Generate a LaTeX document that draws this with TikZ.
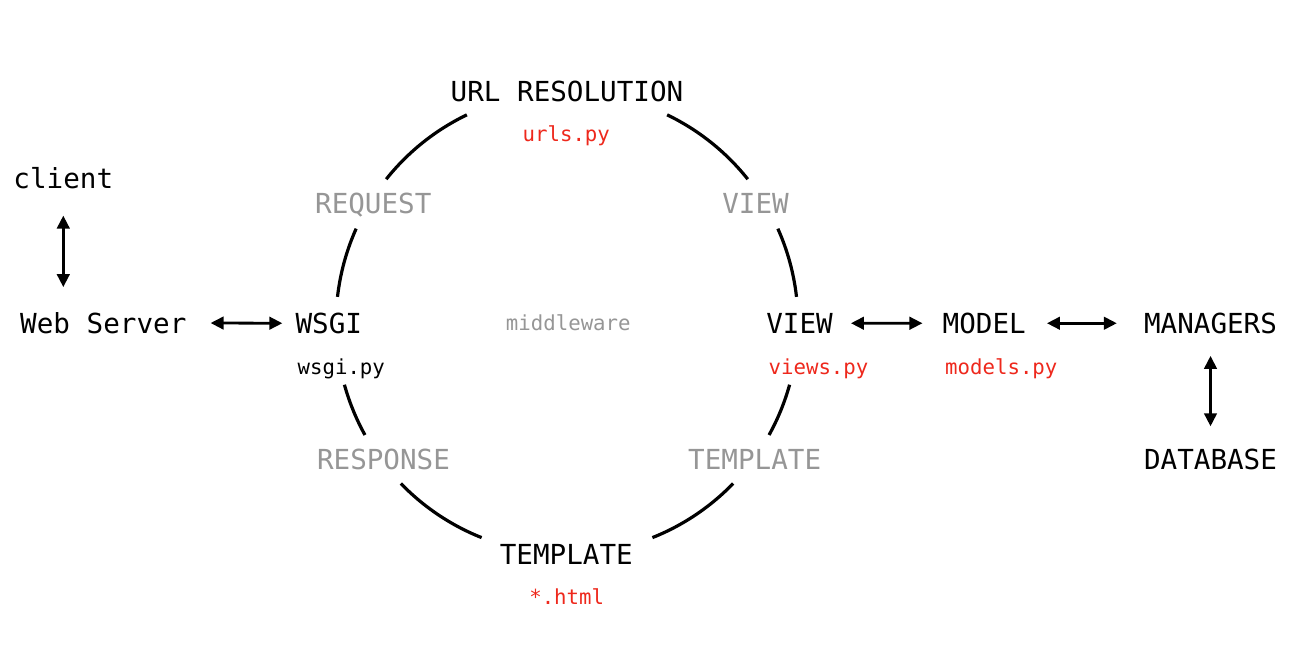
\documentclass[tikz,border=0pt]{standalone}
\usepackage{fontspec}
\setmonofont{DejaVu Sans Mono}
\usetikzlibrary{arrows.meta,calc}
\definecolor{lblgray}{RGB}{150,150,150}
\definecolor{filered}{RGB}{238,40,28}
\begin{document}
\begin{tikzpicture}[x=1bp,y=1bp,
  big/.style={font=\fontsize{27.6bp}{30bp}\selectfont\ttfamily, anchor=base, inner sep=0pt},
  small/.style={font=\fontsize{20.7bp}{24bp}\selectfont\ttfamily, anchor=base, inner sep=0pt},
  stage/.style={big, text=lblgray},
  file/.style={small, text=filered},
  dbl/.style={{Triangle[length=13bp,width=12.5bp]}-{Triangle[length=13bp,width=12.5bp]}, line width=2.8bp},
  ring/.style={line width=3.2bp}]
\fill[white] (0,0) rectangle (1303,646);
\useasboundingbox (0,0) rectangle (1303,646);

\coordinate (c) at (567,323);

% nodes
\node[big]   (url)      at (567,544.3)   {URL RESOLUTION};
\node[file]  (urls)     at (566.3,504.5) {urls.py};
\node[big]   (client)   at (63.3,457)    {client};
\node[stage] (request)  at (373.3,432)   {REQUEST};
\node[stage] (viewg)    at (755.5,432)   {VIEW};
\node[big]   (web)      at (103.3,312.7) {Web Server};
\node[big]   (wsgi)     at (328.8,312.7) {WSGI};
\node[small, text=lblgray] (mid) at (568.3,315.3) {middleware};
\node[big]   (view)     at (799.5,312.7) {VIEW};
\node[big]   (model)    at (984.2,312.7) {MODEL};
\node[big]   (managers) at (1210.5,312.7) {MANAGERS};
\node[small] (wsgipy)   at (341.3,271.5) {wsgi.py};
\node[file]  (viewspy)  at (818.5,271.5) {views.py};
\node[file]  (modelspy) at (1001.3,271.5) {models.py};
\node[stage] (response) at (383.5,176)   {RESPONSE};
\node[stage] (templg)   at (754.7,176)   {TEMPLATE};
\node[big]   (database) at (1210.5,176)  {DATABASE};
\node[big]   (templ)    at (566.3,81)    {TEMPLATE};
\node[file]  (html)     at (566.7,41)    {*.html};

% ring arcs
\foreach \a/\b in {115.7/141.5, 155.9/173.5, 195.5/209, 224/248.3,
                   64.3/38.5, 24.1/6.5, -15.5/-29, -44/-68.3}
  \draw[ring] ($(c)+(\a:231)$) arc[start angle=\a, end angle=\b, radius=231bp];

% connectors
\draw[dbl] ([yshift=-26bp]client.south) -- ($(client.south |- web.north)+(0,25)$);
\draw[dbl] ([xshift=24bp]web.east) -- ([xshift=-13bp]wsgi.west);
\draw[dbl] ([xshift=18bp]view.east) -- ([xshift=-20bp]model.west);
\draw[dbl] ([xshift=21bp]model.east) -- ([xshift=-27bp]managers.west);
\draw[dbl] ([yshift=-22bp]managers.south) -- ([yshift=23bp]database.north);
\end{tikzpicture}
\end{document}
